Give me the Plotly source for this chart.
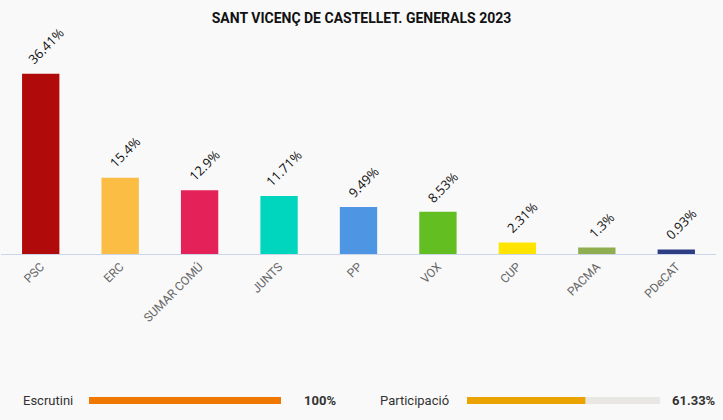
import plotly.graph_objects as go

parties = ["PSC", "ERC", "SUMAR COMÚ", "JUNTS", "PP", "VOX", "CUP", "PACMA", "PDeCAT"]
values = [36.41, 15.4, 12.9, 11.71, 9.49, 8.53, 2.31, 1.3, 0.93]
colors = ["#b10a0a", "#fbbd43", "#e5215a", "#00d6bd", "#4e96e4", "#63be21", "#ffe400", "#8fae50", "#2d3e84"]
title = "SANT VICENÇ DE CASTELLET. GENERALS 2023"
escrutini = 100
participacio = 61.33

W, H = 723, 420
def px(x):
    return x / W
def py(y):
    return (H - y) / H

fig = go.Figure()
fig.add_trace(go.Bar(
    x=parties, y=values, marker=dict(color=colors, line=dict(width=0)),
    cliponaxis=False, xaxis="x", yaxis="y", hoverinfo="x+y", showlegend=False,
))

for p, v in zip(parties, values):
    fig.add_annotation(x=p, y=v, xref="x", yref="y", text=f"{v}%", showarrow=False,
                       textangle=-45, xanchor="center", yanchor="bottom", xshift=5, yshift=3,
                       font=dict(family="Open Sans, sans-serif", size=13, color="#111"))

# progress bars
fig.add_trace(go.Bar(x=[100], y=[0], orientation="h", width=1, marker=dict(color="#e8e7e3", line=dict(width=0)),
                     xaxis="x2", yaxis="y2", showlegend=False, hoverinfo="skip"))
fig.add_trace(go.Bar(x=[escrutini], y=[0], orientation="h", width=1, marker=dict(color="#f07800", line=dict(width=0)),
                     xaxis="x2", yaxis="y2", showlegend=False))
fig.add_trace(go.Bar(x=[100], y=[0], orientation="h", width=1, marker=dict(color="#e8e7e3", line=dict(width=0)),
                     xaxis="x3", yaxis="y3", showlegend=False, hoverinfo="skip"))
fig.add_trace(go.Bar(x=[participacio], y=[0], orientation="h", width=1, marker=dict(color="#eaa300", line=dict(width=0)),
                     xaxis="x3", yaxis="y3", showlegend=False))

fig.update_layout(
    width=W, height=H, margin=dict(l=0, r=0, t=0, b=0),
    paper_bgcolor="#f9f9f9", plot_bgcolor="#f9f9f9",
    barmode="overlay", bargap=0.53,
    font=dict(family="Roboto, sans-serif", color="#333"),
    title=dict(text=f"<b>{title}</b>", x=0.5, xanchor="center", y=py(18), yanchor="middle",
               font=dict(family="Roboto, sans-serif", size=14, color="#111")),
    xaxis=dict(domain=[px(1), px(716)], showline=True, linecolor="#ccd6eb", linewidth=1,
               showgrid=False, ticks="", tickangle=-45,
               tickfont=dict(family="Roboto, sans-serif", size=12, color="#666"), fixedrange=True),
    yaxis=dict(domain=[py(254), py(56)], range=[0, 40], visible=False, fixedrange=True),
    xaxis2=dict(domain=[px(89), px(281)], range=[0, 100], visible=False, fixedrange=True),
    yaxis2=dict(domain=[py(404), py(397)], range=[-0.5, 0.5], visible=False, fixedrange=True),
    xaxis3=dict(domain=[px(467), px(660)], range=[0, 100], visible=False, fixedrange=True),
    yaxis3=dict(domain=[py(404), py(397)], range=[-0.5, 0.5], visible=False, fixedrange=True),
)

ann_font = dict(family="Roboto, sans-serif", size=13, color="#333")
fig.add_annotation(x=px(21), y=py(400.5), xref="paper", yref="paper", text="Escrutini",
                   showarrow=False, xanchor="left", yanchor="middle", font=ann_font)
fig.add_annotation(x=px(302), y=py(400.5), xref="paper", yref="paper", text=f"<b>{escrutini}%</b>",
                   showarrow=False, xanchor="left", yanchor="middle", font=ann_font)
fig.add_annotation(x=px(378), y=py(400.5), xref="paper", yref="paper", text="Participació",
                   showarrow=False, xanchor="left", yanchor="middle", font=ann_font)
fig.add_annotation(x=px(670), y=py(400.5), xref="paper", yref="paper", text=f"<b>{participacio}%</b>",
                   showarrow=False, xanchor="left", yanchor="middle", font=ann_font)

fig.write_html("out.html", config={"displayModeBar": False})
